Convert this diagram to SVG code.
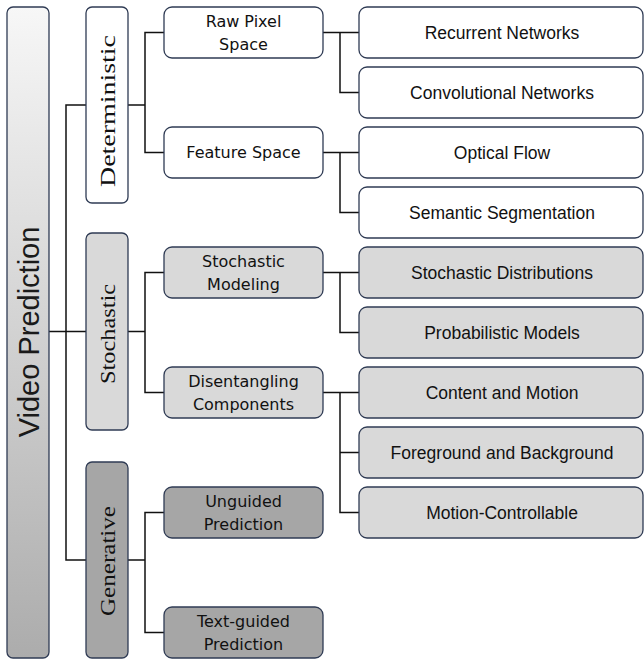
<svg xmlns="http://www.w3.org/2000/svg" width="644" height="661" viewBox="0 0 644 661">
<defs>
<linearGradient id="vpg" x1="0" y1="0" x2="0" y2="1">
<stop offset="0" stop-color="#f7f7f7"/>
<stop offset="0.5" stop-color="#d2d2d2"/>
<stop offset="1" stop-color="#acacac"/>
</linearGradient>
</defs>
<style>
.box{stroke:#2f3b54;stroke-width:1.3}
.w{fill:#ffffff}
.l{fill:#d9d9d9}
.d{fill:#a6a6a6}
.vt{font-family:"Liberation Sans",Arial,sans-serif;font-size:29px;fill:#1a1a1a;text-anchor:middle}
.st{font-family:"Liberation Serif","Times New Roman",serif;font-size:22px;fill:#111;text-anchor:middle}
.mt{font-family:"Comic Sans MS","DejaVu Sans",sans-serif;font-size:16px;fill:#111;text-anchor:middle}
.lt{font-family:"Liberation Sans",Arial,sans-serif;font-size:17.5px;fill:#111;text-anchor:middle}
.c{fill:none;stroke:#111;stroke-width:1.5}
</style>
<g id="connectors">
<path class="c" d="M49 331.5H86 M86 105H66V560H86"/>
<path class="c" d="M128 105H145 M165 32.5H145V152.5H165"/>
<path class="c" d="M128 331.5H145 M165 272.5H145V392.5H165"/>
<path class="c" d="M128 560H145 M165 512.5H145V632.5H165"/>
<path class="c" d="M323 32.5H359 M340 32.5V92.5H359"/>
<path class="c" d="M323 152.5H359 M340 152.5V212.5H359"/>
<path class="c" d="M323 272.5H359 M340 272.5V332.5H359"/>
<path class="c" d="M323 392.5H359 M340 392.5V512.5H359 M340 452.5H359"/>
</g>
<g id="video-prediction">
<rect class="box" x="7" y="7" width="42" height="651" rx="6" fill="url(#vpg)"/>
<text class="vt" transform="translate(38.5,332) rotate(-90)">Video Prediction</text>
</g>
<g id="deterministic">
<rect class="box w" x="86" y="7" width="42" height="196" rx="6"/>
<text class="st" transform="translate(115,111) rotate(-90)" textLength="152" lengthAdjust="spacingAndGlyphs">Deterministic</text>
</g>
<g id="stochastic">
<rect class="box l" x="86" y="233" width="42" height="197" rx="6"/>
<text class="st" transform="translate(115,334) rotate(-90)" textLength="100" lengthAdjust="spacingAndGlyphs">Stochastic</text>
</g>
<g id="generative">
<rect class="box d" x="86" y="462" width="42" height="196" rx="6"/>
<text class="st" transform="translate(115,561) rotate(-90)" textLength="110" lengthAdjust="spacingAndGlyphs">Generative</text>
</g>
<g id="raw-pixel-space">
<rect class="box w" x="164" y="7" width="159" height="51" rx="8"/>
<text class="mt" x="243.5" y="27">Raw Pixel</text>
<text class="mt" x="243.5" y="50">Space</text>
</g>
<g id="feature-space">
<rect class="box w" x="164" y="127" width="159" height="51" rx="8"/>
<text class="mt" x="243.5" y="158">Feature Space</text>
</g>
<g id="stochastic-modeling">
<rect class="box l" x="164" y="247" width="159" height="51" rx="8"/>
<text class="mt" x="243.5" y="267">Stochastic</text>
<text class="mt" x="243.5" y="290">Modeling</text>
</g>
<g id="disentangling-components">
<rect class="box l" x="164" y="367" width="159" height="51" rx="8"/>
<text class="mt" x="243.5" y="387">Disentangling</text>
<text class="mt" x="243.5" y="410">Components</text>
</g>
<g id="unguided-prediction">
<rect class="box d" x="164" y="487" width="159" height="51" rx="8"/>
<text class="mt" x="243.5" y="507">Unguided</text>
<text class="mt" x="243.5" y="530">Prediction</text>
</g>
<g id="text-guided-prediction">
<rect class="box d" x="164" y="607" width="159" height="51" rx="8"/>
<text class="mt" x="243.5" y="627">Text-guided</text>
<text class="mt" x="243.5" y="650">Prediction</text>
</g>
<g id="recurrent-networks">
<rect class="box w" x="359" y="7" width="284" height="51" rx="8"/>
<text class="lt" x="502" y="38.5">Recurrent Networks</text>
</g>
<g id="convolutional-networks">
<rect class="box w" x="359" y="67" width="284" height="51" rx="8"/>
<text class="lt" x="502" y="98.5">Convolutional Networks</text>
</g>
<g id="optical-flow">
<rect class="box w" x="359" y="127" width="284" height="51" rx="8"/>
<text class="lt" x="502" y="158.5">Optical Flow</text>
</g>
<g id="semantic-segmentation">
<rect class="box w" x="359" y="187" width="284" height="51" rx="8"/>
<text class="lt" x="502" y="218.5">Semantic Segmentation</text>
</g>
<g id="stochastic-distributions">
<rect class="box l" x="359" y="247" width="284" height="51" rx="8"/>
<text class="lt" x="502" y="278.5">Stochastic Distributions</text>
</g>
<g id="probabilistic-models">
<rect class="box l" x="359" y="307" width="284" height="51" rx="8"/>
<text class="lt" x="502" y="338.5">Probabilistic Models</text>
</g>
<g id="content-and-motion">
<rect class="box l" x="359" y="367" width="284" height="51" rx="8"/>
<text class="lt" x="502" y="398.5">Content and Motion</text>
</g>
<g id="foreground-and-background">
<rect class="box l" x="359" y="427" width="284" height="51" rx="8"/>
<text class="lt" x="502" y="458.5">Foreground and Background</text>
</g>
<g id="motion-controllable">
<rect class="box l" x="359" y="487" width="284" height="51" rx="8"/>
<text class="lt" x="502" y="518.5">Motion-Controllable</text>
</g>
</svg>
